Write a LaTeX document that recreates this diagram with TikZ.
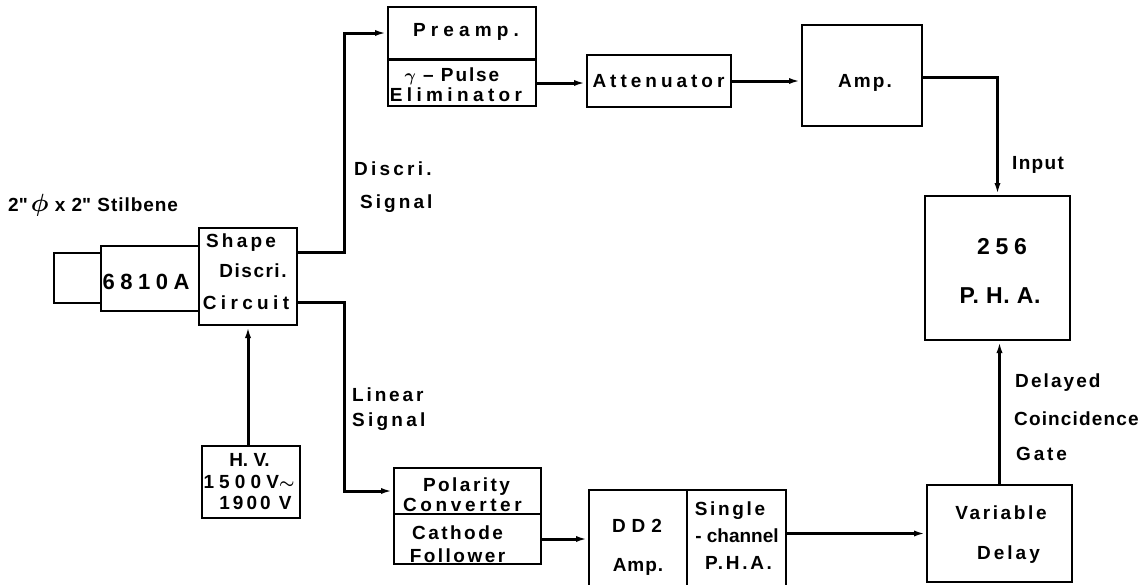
\documentclass[tikz,border=0pt]{standalone}
\usepackage{fontspec}
\setmainfont{Liberation Sans}
\usetikzlibrary{arrows.meta,calc}
\newcommand\lsp[2]{{\addfontfeature{LetterSpace=#1}#2}}
\begin{document}
\begin{tikzpicture}[x=1pt,y=-1pt,
  box/.style={draw, line width=2pt, inner sep=0pt},
  wire/.style={line width=3pt},
  arr/.style={wire, -{Latex[length=12pt,width=6pt]}},
  t/.style={inner sep=0pt, anchor=base, font=\bfseries\boldmath\fontsize{19}{22}\selectfont},
  tl/.style={t, anchor=base west},
  big/.style={font=\bfseries\boldmath\fontsize{23}{26}\selectfont}]
\useasboundingbox (0,0) rectangle (1140,584);
\clip (0,0) rectangle (1140,584);
% boxes
\node[box, minimum width=47pt, minimum height=50pt] (stil) at (77.5,278) {};
\node[box, minimum width=98pt, minimum height=65pt] (pmt) at (150,278.5) {};
\node[box, minimum width=98pt, minimum height=97pt] (shape) at (248,276.5) {};
\node[box, minimum width=148pt, minimum height=52pt] (preamp) at (462,33) {};
\node[box, minimum width=148pt, minimum height=46pt] (pulse) at (462,83) {};
\node[box, minimum width=144pt, minimum height=52pt] (atten) at (659,81) {};
\node[box, minimum width=120pt, minimum height=101pt] (amp) at (862,75.5) {};
\node[box, minimum width=145pt, minimum height=144pt] (pha) at (997.5,268) {};
\node[box, minimum width=145pt, minimum height=97pt] (vd) at (999.5,533.5) {};
\node[box, minimum width=98pt, minimum height=110pt] (dd2) at (638,545) {};
\node[box, minimum width=99pt, minimum height=110pt] (spha) at (736.5,545) {};
\node[box, minimum width=147pt, minimum height=46pt] (pol) at (467.5,491) {};
\node[box, minimum width=147pt, minimum height=50pt] (cath) at (467.5,539) {};
\node[box, minimum width=98pt, minimum height=72pt] (hv) at (251,482) {};
% box texts
\node[t, font=\bfseries\fontsize{22}{24}\selectfont] (pmtt) at (146,289) {\lsp{25}{6810A}};
\node[t] (sh1) at (241,247) {\lsp{17}{Shape}};
\node[t] (sh2) at (253,277) {\lsp{8}{Discri.}};
\node[t] (sh3) at (246,309) {\lsp{23}{Circuit}};
\node[t] (pre1) at (466,36) {\lsp{27}{Preamp.}};
\node[t] (pul1) at (452,81) {\lsp{10}{$\gamma$ -- Pulse}};
\node[t] (pul2) at (456,101) {\lsp{23}{Eliminator}};
\node[t] (att1) at (658.5,87) {\lsp{21}{Attenuator}};
\node[t] (amp1) at (865,87) {\lsp{11}{Amp.}};
\node[t, big] (pha1) at (1002,254) {\lsp{25}{256}};
\node[t, big] (pha2) at (1000,303) {\lsp{3}{P. H. A.}};
\node[t] (vd1) at (1001,519) {\lsp{14}{Variable}};
\node[t] (vd2) at (1008.5,559) {\lsp{16}{Delay}};
\node[t] (dd1) at (637,532) {\lsp{31}{DD2}};
\node[t] (dd2b) at (638,571) {\lsp{5}{Amp.}};
\node[t] (sp1) at (730,515) {\lsp{14}{Single}};
\node[t] (sp2) at (737,542) {\lsp{0}{- channel}};
\node[t] (sp3) at (738.5,569) {\lsp{14}{P.H.A.}};
\node[t] (po1) at (466.5,491) {\lsp{13}{Polarity}};
\node[t] (po2) at (462.5,511) {\lsp{19}{Converter}};
\node[t] (ca1) at (457.5,539) {\lsp{13}{Cathode}};
\node[t] (ca2) at (457.5,562) {\lsp{13}{Follower}};
\node[t] (hv1) at (249.5,466) {\lsp{0}{H. V.}};
\node[t] (hv2) at (249,488) {\lsp{27}{1500V}$\sim$};
\node[t] (hv3) at (255.5,509) {\lsp{16}{1900 V}};
% connectors
\draw[arr] ([yshift=24.5pt]shape.east) -- ++(46,0) |- (preamp.west);
\draw[arr] ([yshift=-25.5pt]shape.east) -- ++(46,0) |- (pol.west);
\draw[arr] (shape.south |- hv.north) -- (shape.south);
\draw[arr] (pulse.east) -- (pulse.east -| atten.west);
\draw[arr] (atten.east) -- (atten.east -| amp.west);
\draw[arr] ([yshift=-1.5pt]amp.east) -| (pha.north);
\draw[arr] (vd.north) -- (vd.north |- pha.south);
\draw[arr] (cath.east) -- (cath.east -| dd2.west);
\draw[arr] (vd.west -| spha.east) -- (vd.west);
% labels
\node[tl] (stl) at (8,211) {\lsp{5}{2\textquotedbl\,{\fontsize{24}{24}\selectfont$\phi$} x 2\textquotedbl\ Stilbene}};
\node[tl] (ds1) at (354,175) {\lsp{17}{Discri.}};
\node[tl] (ds2) at (360,208) {\lsp{16}{Signal}};
\node[tl] (ls1) at (352,401) {\lsp{15}{Linear}};
\node[tl] (ls2) at (352,426) {\lsp{17}{Signal}};
\node[tl] (inp) at (1012,169) {\lsp{7}{Input}};
\node[tl] (dc1) at (1015,387) {\lsp{11}{Delayed}};
\node[tl] (dc2) at (1014,425) {\lsp{6}{Coincidence}};
\node[tl] (dc3) at (1016,460) {\lsp{15}{Gate}};
\end{tikzpicture}
\end{document}
